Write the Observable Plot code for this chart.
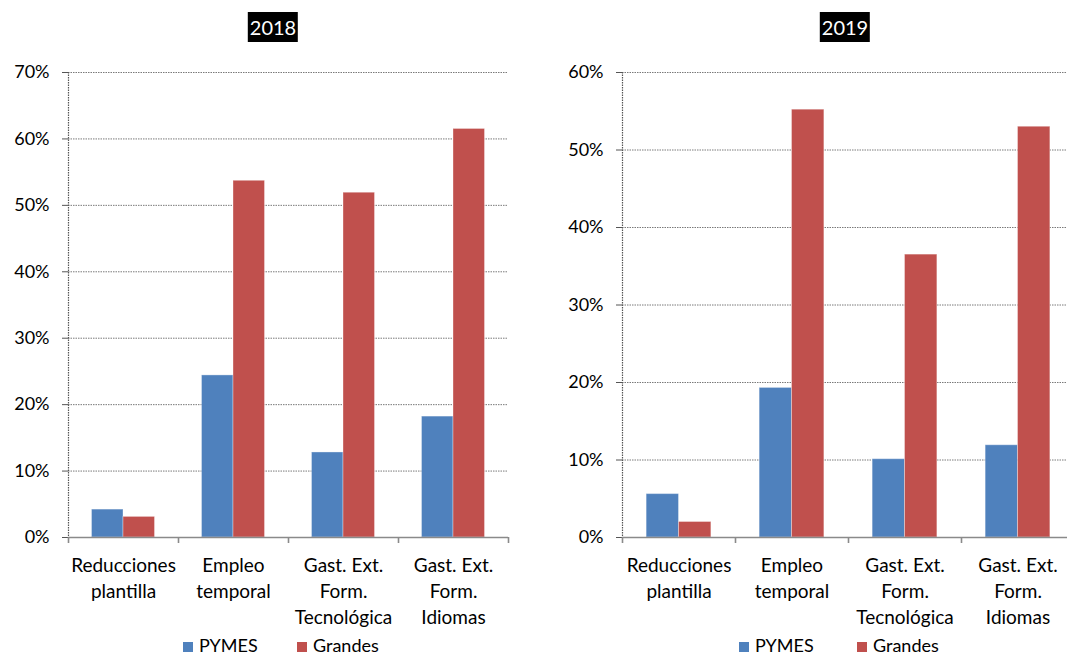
<!DOCTYPE html>
<html>
<head>
<meta charset="utf-8">
<script src="https://cdn.jsdelivr.net/npm/d3@7"></script>
<script src="https://cdn.jsdelivr.net/npm/@observablehq/plot@0.6"></script>
<style>
  body { margin: 0; background: #fff; font-family: Lato, "Open Sans", sans-serif; }
  #page { position: relative; width: 1067px; height: 656px; overflow: hidden; background: #fff; }
  .title { position: absolute; top: 12px; height: 30px; line-height: 30px; padding: 0 2px;
           background: #000; color: #fff; font-size: 20px; transform: translateX(-50%); }
  .panel { position: absolute; top: 50px; }
  .swatch { position: absolute; width: 10px; height: 10px; }
  .ltext { position: absolute; font-size: 18px; line-height: 18px; color: #000; white-space: nowrap; }
</style>
</head>
<body>
<div id="page"></div>
<script>
// Categories (multi-line labels) and series
const categories = ["Reducciones\nplantilla", "Empleo\ntemporal", "Gast. Ext.\nForm.\nTecnológica", "Gast. Ext.\nForm.\nIdiomas"];
const series = ["PYMES", "Grandes"];
const seriesColors = ["#4F81BD", "#C0504D"];

// Shares by company size, 2018
const pymes2018 = [0.042, 0.244, 0.128, 0.182];
const grandes2018 = [0.031, 0.537, 0.519, 0.615];

// Shares by company size, 2019
const pymes2019 = [0.056, 0.193, 0.101, 0.119];
const grandes2019 = [0.020, 0.552, 0.365, 0.530];

// Y tick values
const yTicks2018 = [0, 0.1, 0.2, 0.3, 0.4, 0.5, 0.6, 0.7];
const yTicks2019 = [0, 0.1, 0.2, 0.3, 0.4, 0.5, 0.6];

const page = document.getElementById("page");

function panel({year, pymes, grandes, ticks, left, width, marginLeft, marginRight, titleX, legendX, legendGap}) {
  const height = 590, marginTop = 22, marginBottom = 103;
  const innerW = width - marginLeft - marginRight;
  const innerH = height - marginTop - marginBottom;
  const step = innerW / categories.length;
  const barW = step * 0.2864;
  const inset = (step - barW) / 2;
  const rows = categories.map((c, i) => ({cat: c, pymes: pymes[i], grandes: grandes[i]}));
  const last = categories[categories.length - 1];
  const barStyle = {insetLeft: inset, insetRight: inset, stroke: "#fff", strokeOpacity: 0.35, strokeWidth: 1};

  const chart = Plot.plot({
    width, height, marginLeft, marginRight, marginTop, marginBottom,
    style: {fontFamily: "Lato, 'Open Sans', sans-serif", fontSize: "18px", color: "#000", background: "transparent", overflow: "visible"},
    x: {domain: categories, padding: 0, label: null},
    y: {domain: [0, ticks[ticks.length - 1]], label: null},
    marks: [
      Plot.gridY(ticks, {stroke: "#7a7a7a", strokeOpacity: 1, strokeWidth: 1, strokeDasharray: "1.5,1"}),
      Plot.barY(rows, {x: "cat", y: "pymes", fill: seriesColors[0], dx: -barW / 2, ...barStyle}),
      Plot.barY(rows, {x: "cat", y: "grandes", fill: seriesColors[1], dx: barW / 2, ...barStyle}),
      // dotted value axis line
      Plot.ruleX([categories[0]], {dx: -step / 2, stroke: "#555", strokeWidth: 1.2, strokeDasharray: "1.5,1"}),
      Plot.axisY(ticks, {tickFormat: d3.format(".0%"), tickSize: 6, tickPadding: 13, stroke: "#555", fontSize: 18, label: null}),
      // category axis line and separators
      Plot.ruleY([0], {stroke: "#8a8a8a", strokeWidth: 1.6}),
      Plot.ruleX(categories, {dx: -step / 2, insetTop: innerH, insetBottom: -6, stroke: "#8a8a8a", strokeWidth: 1.6}),
      Plot.ruleX([last], {dx: step / 2, insetTop: innerH, insetBottom: -6, stroke: "#8a8a8a", strokeWidth: 1.6}),
      Plot.axisX({tickSize: 0, tickPadding: 16, lineHeight: 1.36, fontSize: 19, label: null})
    ]
  });
  chart.classList.add("panel");
  chart.style.left = left + "px";
  page.appendChild(chart);

  const title = document.createElement("div");
  title.className = "title";
  title.style.left = titleX + "px";
  title.textContent = year;
  page.appendChild(title);

  series.forEach((s, i) => {
    const sw = document.createElement("div");
    sw.className = "swatch";
    sw.style.left = (legendX + i * legendGap) + "px";
    sw.style.top = "642px";
    sw.style.background = seriesColors[i];
    page.appendChild(sw);
    const t = document.createElement("div");
    t.className = "ltext";
    t.style.left = (legendX + i * legendGap + 16) + "px";
    t.style.top = "636px";
    t.textContent = s;
    page.appendChild(t);
  });
}

panel({year: "2018", pymes: pymes2018, grandes: grandes2018, ticks: yTicks2018,
  left: 0, width: 540, marginLeft: 68, marginRight: 32, titleX: 273, legendX: 183, legendGap: 114});
panel({year: "2019", pymes: pymes2019, grandes: grandes2019, ticks: yTicks2019,
  left: 540, width: 544, marginLeft: 82, marginRight: 10, titleX: 845, legendX: 739, legendGap: 118});
</script>
</body>
</html>
